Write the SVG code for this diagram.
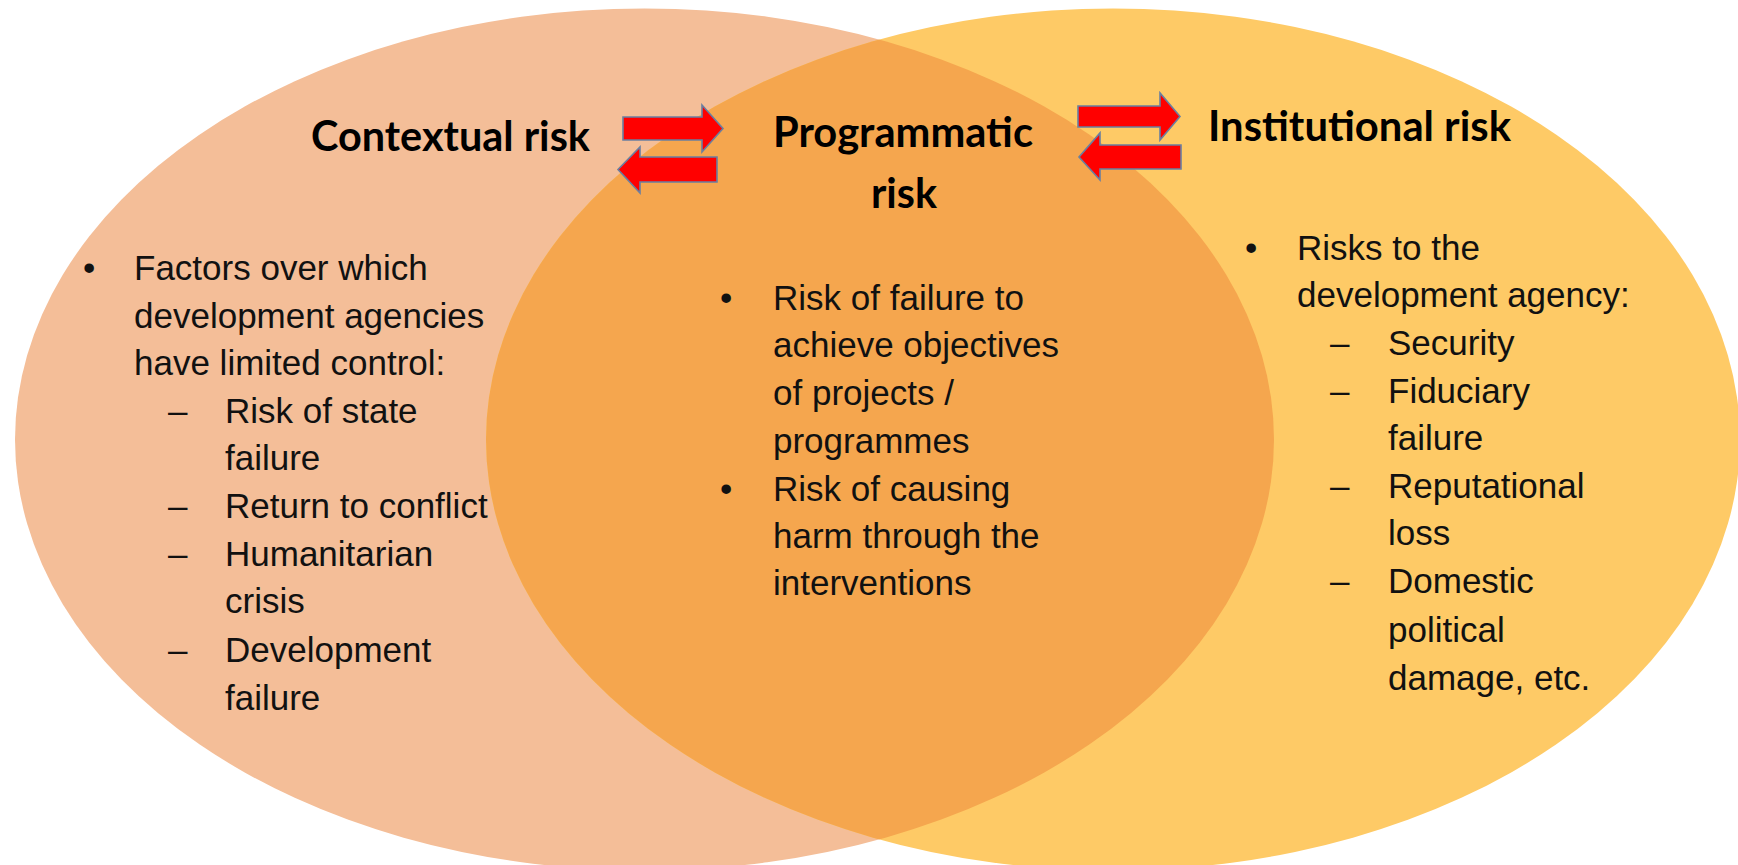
<svg xmlns="http://www.w3.org/2000/svg" width="1738" height="865" viewBox="0 0 1738 865">
  <style>
    .title { font-family: Lato, "Open Sans", "Liberation Sans", sans-serif; font-weight: bold; font-size: 42px; fill: #000; }
    .body { font-family: "Liberation Sans", Arial, sans-serif; font-size: 35px; fill: #111; }
    .arrow { fill: #FF0000; stroke: #6A7FA0; stroke-width: 1.6; stroke-linejoin: miter; }
  </style>
  <defs>
    <clipPath id="leftClip">
      <ellipse cx="644.5" cy="439.5" rx="629.5" ry="431"/>
    </clipPath>
  </defs>
  <rect width="1738" height="865" fill="#FFFFFF"/>

  <g id="contextual">
    <ellipse cx="644.5" cy="439.5" rx="629.5" ry="431" fill="#F4BE98"/>
  </g>
  <g id="institutional">
    <ellipse cx="1113" cy="439.5" rx="627" ry="431" fill="#FECA66"/>
  </g>
  <g id="programmatic">
    <ellipse cx="1113" cy="439.5" rx="627" ry="431" fill="#F5A64E" clip-path="url(#leftClip)"/>
  </g>

  <g id="contextual-text">
    <text class="title" x="311" y="151" textLength="279" lengthAdjust="spacingAndGlyphs">Contextual risk</text>
    <g class="body">
      <text x="83" y="280">•</text>
      <text x="134" y="280">Factors over which</text>
      <text x="134" y="328">development agencies</text>
      <text x="134" y="375">have limited control:</text>
      <text x="168" y="423">–</text>
      <text x="225" y="423">Risk of state</text>
      <text x="225" y="470">failure</text>
      <text x="168" y="518">–</text>
      <text x="225" y="518">Return to conflict</text>
      <text x="168" y="566">–</text>
      <text x="225" y="566">Humanitarian</text>
      <text x="225" y="613">crisis</text>
      <text x="168" y="662">–</text>
      <text x="225" y="662">Development</text>
      <text x="225" y="710">failure</text>
    </g>
  </g>

  <g id="programmatic-text">
    <text class="title" x="773" y="147" textLength="260" lengthAdjust="spacingAndGlyphs">Programmatic</text>
    <text class="title" x="871" y="208" textLength="66" lengthAdjust="spacingAndGlyphs">risk</text>
    <g class="body">
      <text x="720" y="310">•</text>
      <text x="773" y="310">Risk of failure to</text>
      <text x="773" y="357">achieve objectives</text>
      <text x="773" y="405">of projects /</text>
      <text x="773" y="453">programmes</text>
      <text x="720" y="501">•</text>
      <text x="773" y="501">Risk of causing</text>
      <text x="773" y="548">harm through the</text>
      <text x="773" y="595">interventions</text>
    </g>
  </g>

  <g id="institutional-text">
    <text class="title" x="1208" y="141" textLength="303" lengthAdjust="spacingAndGlyphs">Institutional risk</text>
    <g class="body">
      <text x="1245" y="260">•</text>
      <text x="1297" y="260">Risks to the</text>
      <text x="1297" y="307">development agency:</text>
      <text x="1330" y="355">–</text>
      <text x="1388" y="355">Security</text>
      <text x="1330" y="403">–</text>
      <text x="1388" y="403">Fiduciary</text>
      <text x="1388" y="450">failure</text>
      <text x="1330" y="498">–</text>
      <text x="1388" y="498">Reputational</text>
      <text x="1388" y="545">loss</text>
      <text x="1330" y="593">–</text>
      <text x="1388" y="593">Domestic</text>
      <text x="1388" y="642">political</text>
      <text x="1388" y="690">damage, etc.</text>
    </g>
  </g>

  <g id="connectors">
    <polygon class="arrow" points="623,117 702,117 702,105 723,128.5 702,152 702,140 623,140"/>
    <polygon class="arrow" points="717,157 640,157 640,147 618,169.5 640,193 640,182 717,182"/>
    <polygon class="arrow" points="1078,106 1160,106 1160,93 1180,116.5 1160,140 1160,127 1078,127"/>
    <polygon class="arrow" points="1181,145 1100,145 1100,133 1079,157 1100,180 1100,169 1181,169"/>
  </g>
</svg>
